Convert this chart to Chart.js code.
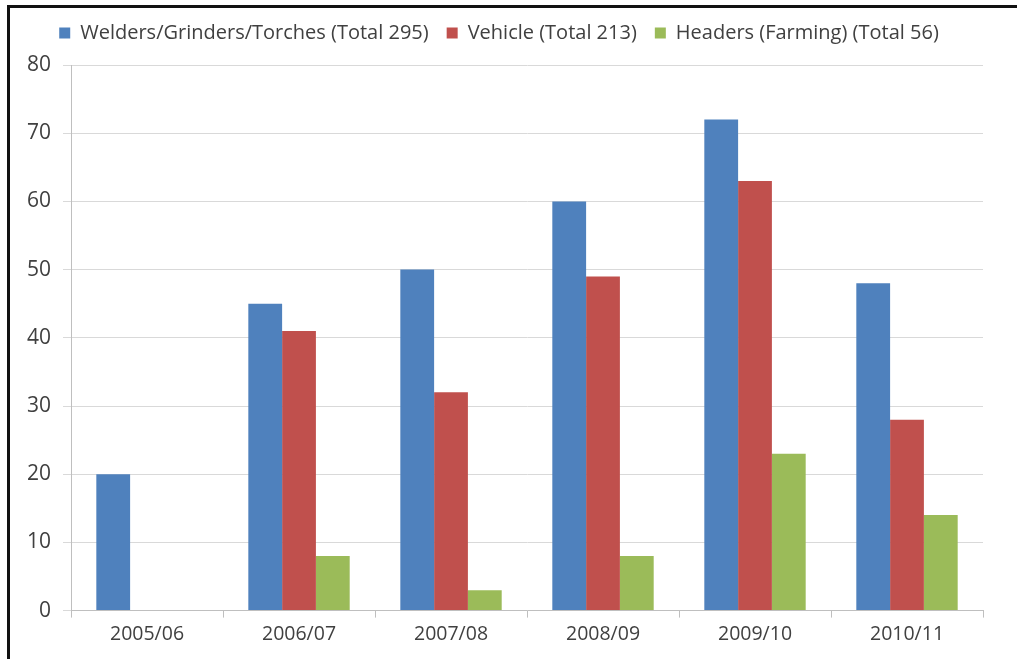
<!DOCTYPE html>
<html>
<head>
<meta charset="utf-8">
<script src="https://cdn.jsdelivr.net/npm/chart.js@4/dist/chart.umd.min.js"></script>
<style>
  html, body { margin: 0; padding: 0; background: #fff; }
  #wrap { position: relative; width: 1017px; height: 659px; }
  #frame { position: absolute; left: 7px; top: 5px; right: 0; bottom: 0;
           border-top: 3px solid #111; border-left: 3px solid #111; pointer-events: none; }
  canvas { position: absolute; left: 0; top: 0; }
</style>
</head>
<body>
<div id="wrap">
  <canvas id="chart" width="1017" height="659"></canvas>
  <div id="frame"></div>
</div>
<script>
const seasons = ['2005/06', '2006/07', '2007/08', '2008/09', '2009/10', '2010/11'];
const welders = [20, 45, 50, 60, 72, 48];
const vehicle = [0, 41, 32, 49, 63, 28];
const headers = [0, 8, 3, 8, 23, 14];
const yTicks = [0, 10, 20, 30, 40, 50, 60, 70, 80];

const font = "'Open Sans', 'Noto Sans', sans-serif";

// push the plot a little further below the legend
const legendGap = {
    id: 'legendGap',
    beforeInit(chart) {
        const fit = chart.legend.fit;
        chart.legend.fit = function () {
            fit.bind(chart.legend)();
            this.height += 12;
        };
    }
};

const ctx = document.getElementById('chart').getContext('2d');
new Chart(ctx, {
    type: 'bar',
    data: {
        labels: seasons,
        datasets: [
            { label: 'Welders/Grinders/Torches (Total 295)', data: welders, backgroundColor: '#4F81BD' },
            { label: 'Vehicle (Total 213)', data: vehicle, backgroundColor: '#C0504D' },
            { label: 'Headers (Farming) (Total 56)', data: headers, backgroundColor: '#9BBB59' }
        ]
    },
    options: {
        responsive: false,
        animation: false,
        barPercentage: 1,
        categoryPercentage: 0.667,
        layout: { padding: { left: 15, right: 34, top: 5, bottom: 8 } },
        plugins: {
            legend: {
                position: 'top',
                labels: {
                    boxWidth: 11,
                    boxHeight: 11,
                    padding: 18,
                    color: '#404040',
                    font: { family: font, size: 20 }
                }
            },
            tooltip: { enabled: false }
        },
        scales: {
            x: {
                grid: { offset: true, drawOnChartArea: false, drawTicks: true, tickLength: 7, color: '#bfbfbf' },
                border: { color: '#bfbfbf' },
                ticks: { color: '#404040', font: { family: font, size: 19.5 }, padding: 5 }
            },
            y: {
                min: 0,
                max: 80,
                afterBuildTicks: axis => { axis.ticks = yTicks.map(v => ({ value: v })); },
                grid: { color: '#d9d9d9', tickLength: 8 },
                border: { color: '#bfbfbf' },
                ticks: { color: '#404040', font: { family: font, size: 21 }, padding: 12 }
            }
        }
    },
    plugins: [legendGap]
});
</script>
</body>
</html>
